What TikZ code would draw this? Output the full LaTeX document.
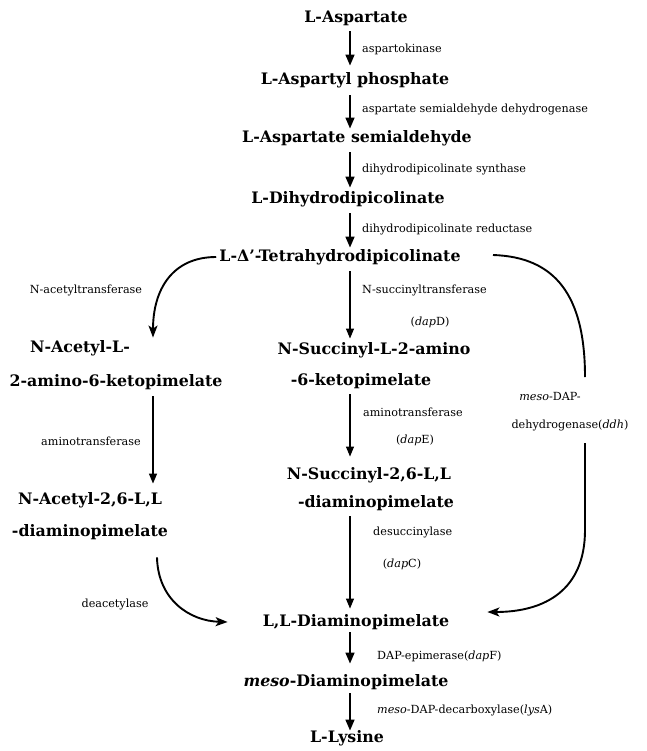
\documentclass[tikz,border=0pt]{standalone}
\usepackage{fontspec}
\setmainfont{DejaVu Serif}
\usetikzlibrary{arrows.meta}
\begin{document}
\begin{tikzpicture}[x=1pt,y=-1pt,
  cpd/.style={font=\fontsize{15.8}{18}\selectfont\bfseries, inner sep=0pt, text height=11.5pt, text depth=3pt},
  enz/.style={font=\fontsize{11.2}{13}\selectfont, inner sep=0pt, text height=8pt, text depth=2pt},
  stepar/.style={line width=1.5pt, -{Triangle[length=11pt,width=9pt]}},
  thinar/.style={line width=1.1pt, -{Triangle[length=10pt,width=8pt]}},
  curvar/.style={line width=1.9pt, -{Stealth[length=12pt,width=9pt,inset=3pt]}},
  curvln/.style={line width=1.9pt}
]
\useasboundingbox (0,0) rectangle (646,751);
\fill[white] (0,0) rectangle (646,751);

% axis
\coordinate (ax) at (350,0);
\coordinate (lx) at (153,0);

% compounds
\node[cpd] (a1) at (356,18) {L-Aspartate};
\node[cpd] (a2) at (355,80) {L-Aspartyl phosphate};
\node[cpd] (a3) at (357,138) {L-Aspartate semialdehyde};
\node[cpd] (a4) at (348,199) {L-Dihydrodipicolinate};
\node[cpd] (a5) at (340,257) {L-Δ'-Tetrahydrodipicolinate};
\node[cpd] (b1a) at (80,348) {N-Acetyl-L-};
\node[cpd] (b1b) at (116,382) {2-amino-6-ketopimelate};
\node[cpd] (b2a) at (90,500) {N-Acetyl-2,6-L,L};
\node[cpd] (b2b) at (90,532) {-diaminopimelate};
\node[cpd] (c1a) at (374,350) {N-Succinyl-L-2-amino};
\node[cpd] (c1b) at (361,381) {-6-ketopimelate};
\node[cpd] (c2a) at (369,475) {N-Succinyl-2,6-L,L};
\node[cpd] (c2b) at (376,503) {-diaminopimelate};
\node[cpd] (d) at (356,622) {L,L-Diaminopimelate};
\node[cpd] (e) at (346,682) {\textit{meso}-Diaminopimelate};
\node[cpd] (f) at (347,738) {L-Lysine};

% enzymes
\node[enz,anchor=west] (z1) at (362,50) {aspartokinase};
\node[enz,anchor=west] (z2) at (362,110) {aspartate semialdehyde dehydrogenase};
\node[enz,anchor=west] (z3) at (362,170) {dihydrodipicolinate synthase};
\node[enz,anchor=west] (z4) at (362,230) {dihydrodipicolinate reductase};
\node[enz] (z5) at (86,290) {N-acetyltransferase};
\node[enz,anchor=west] (z6) at (362,290) {N-succinyltransferase};
\node[enz] (z6b) at (430,322) {(\textit{dap}D)};
\node[enz] (z7) at (91,442) {aminotransferase};
\node[enz,anchor=west] (z8) at (363,413) {aminotransferase};
\node[enz] (z8b) at (415,440) {(\textit{dap}E)};
\node[enz] (z9) at (550,397) {\textit{meso}-DAP-};
\node[enz] (z9b) at (570,425) {dehydrogenase(\textit{ddh})};
\node[enz,anchor=west] (z10) at (373,532) {desuccinylase};
\node[enz] (z10b) at (402,564) {(\textit{dap}C)};
\node[enz] (z11) at (115,604) {deacetylase};
\node[enz,anchor=west] (z12) at (377,656) {DAP-epimerase(\textit{dap}F)};
\node[enz,anchor=west] (z13) at (377,710) {\textit{meso}-DAP-decarboxylase(\textit{lys}A)};

% free ends of the right branch
\coordinate (r0) at (493,255);
\coordinate (r1) at (585,377);
\coordinate (r2) at (585,443);

% main chain
\draw[stepar, shorten <=6pt, shorten >=7pt] (a1.south -| ax) -- (a2.north -| ax);
\draw[stepar, shorten <=8pt, shorten >=2pt] (a2.south -| ax) -- (a3.north -| ax);
\draw[stepar, shorten <=7pt, shorten >=4pt] (a3.south -| ax) -- (a4.north -| ax);
\draw[stepar, shorten <=7pt, shorten >=2pt] (a4.south -| ax) -- (a5.north -| ax);

% middle branch
\draw[thinar, shorten <=7pt, shorten >=4pt] (a5.south -| ax) -- (c1a.north -| ax);
\draw[thinar, shorten <=6pt, shorten >=11pt] (c1b.south -| ax) -- (c2a.north -| ax);
\draw[thinar, shorten <=6pt, shorten >=6pt] (c2b.south -| ax) -- (d.north -| ax);

% left branch
\draw[curvar] ([xshift=-3pt]a5.west) .. controls (172,257) and (153,290) .. ([yshift=3pt]b1a.north -| lx);
\draw[thinar, line width=1.5pt, shorten <=7pt, shorten >=9pt] (b1b.south -| lx) -- (b2a.north -| lx);
\draw[curvar] ([xshift=67pt,yshift=-18pt]b2b.south) .. controls (158,600) and (190,621) .. ([xshift=-35pt]d.west);

% right branch
\draw[curvln] (r0) .. controls (555,257) and (585,295) .. (r1);
\draw[curvar] (r2) -- (585,530) .. controls (585,590) and (545,612) .. ([xshift=38pt,yshift=10pt]d.east);

% bottom
\draw[stepar, shorten <=3pt, shorten >=11pt] (d.south -| ax) -- (e.north -| ax);
\draw[stepar, shorten <=4pt, shorten >=0pt] (e.south -| ax) -- (f.north -| ax);
\end{tikzpicture}
\end{document}
